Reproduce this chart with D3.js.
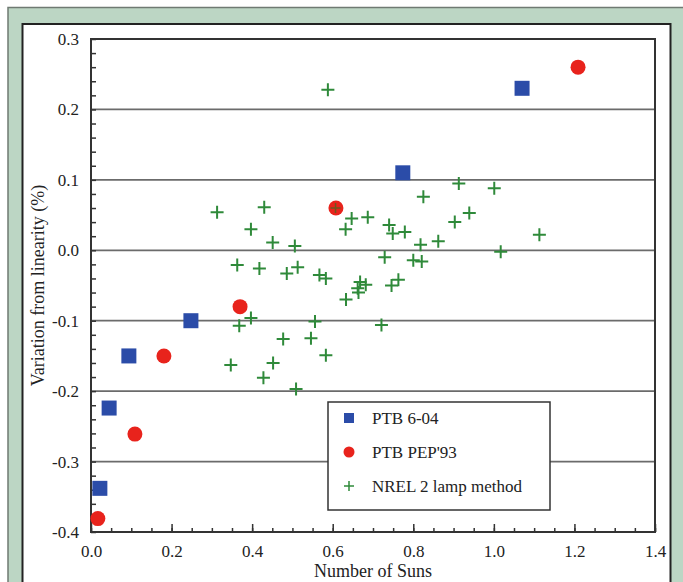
<!DOCTYPE html>
<html>
<head>
<meta charset="utf-8">
<script src="https://cdn.jsdelivr.net/npm/d3@7/dist/d3.min.js"></script>
<style>
	html, body { margin: 0; padding: 0; background: #fff; }
	svg { display: block; font-family: "Liberation Serif", "Times New Roman", serif; }
</style>
</head>
<body>
<div id="chart"></div>
<script>
// data
var xTicks = [0, 0.2, 0.4, 0.6, 0.8, 1.0, 1.2, 1.4];
var yTicks = [-0.4, -0.3, -0.2, -0.1, 0.0, 0.1, 0.2, 0.3];

var ptbX = [0.022, 0.045, 0.094, 0.248, 0.774, 1.070];
var ptbY = [-0.338, -0.224, -0.150, -0.100, 0.110, 0.230];

var pepX = [0.017, 0.109, 0.181, 0.370, 0.608, 1.209];
var pepY = [-0.381, -0.261, -0.150, -0.080, 0.060, 0.260];

var nrelX = [0.313, 0.430, 0.397, 0.451, 0.506, 0.607, 0.647, 0.687, 0.632, 0.588,
	0.363, 0.418, 0.486, 0.513, 0.567, 0.583, 0.668, 0.682, 0.662, 0.664, 0.633,
	0.913, 1.001, 0.825, 0.939, 0.903, 0.740, 0.749, 0.779, 0.862, 0.818, 1.113,
	1.017, 0.729, 0.800, 0.821, 0.763, 0.746,
	0.397, 0.368, 0.556, 0.721, 0.477, 0.546, 0.583, 0.347, 0.452, 0.428, 0.509];
var nrelY = [0.054, 0.061, 0.030, 0.011, 0.006, 0.060, 0.045, 0.047, 0.030, 0.228,
	-0.021, -0.026, -0.033, -0.024, -0.035, -0.040, -0.045, -0.049, -0.054, -0.060, -0.070,
	0.095, 0.088, 0.076, 0.053, 0.040, 0.036, 0.024, 0.026, 0.013, 0.008, 0.022,
	-0.002, -0.010, -0.014, -0.016, -0.042, -0.050,
	-0.096, -0.107, -0.101, -0.106, -0.126, -0.125, -0.149, -0.163, -0.160, -0.181, -0.197];

var seriesNames = ["PTB 6-04", "PTB PEP'93", "NREL 2 lamp method"];

var blue = "#2b4ca8", red = "#e8231c", green = "#2f8a3a";
var serif = "'Liberation Serif', 'Times New Roman', serif";

var W = 683, H = 582;
var svg = d3.select("#chart").append("svg")
	.attr("width", W)
	.attr("height", H);

// green page frame and white panel
svg.append("rect")
	.attr("x", 8).attr("y", 7.5)
	.attr("width", W).attr("height", H)
	.attr("fill", "#bcd6c4")
	.attr("stroke", "#6f7a72")
	.attr("stroke-width", 1.5);
svg.append("rect")
	.attr("x", 22.5).attr("y", 24)
	.attr("width", 648).attr("height", H)
	.attr("fill", "#fff")
	.attr("stroke", "#222")
	.attr("stroke-width", 2);

var x = d3.scaleLinear().domain([0, 1.4]).range([91, 655]);
var y = d3.scaleLinear().domain([-0.4, 0.3]).range([532, 39]);

var plot = svg.append("g");

// horizontal grid at the labelled values
plot.selectAll("line.grid")
	.data(yTicks.slice(1, -1))
	.enter().append("line")
		.attr("class", "grid")
		.attr("x1", x(0)).attr("x2", x(1.4))
		.attr("y1", function(d){ return y(d); })
		.attr("y2", function(d){ return y(d); })
		.attr("stroke", "#6b6b6b")
		.attr("stroke-width", 1.8);

// minor ticks, pointing inward
var yMinor = y.ticks(35);
var xMinor = x.ticks(28);

plot.append("g")
	.attr("transform", "translate(" + x(0) + ",0)")
	.call(d3.axisLeft(y).tickValues(yMinor).tickSize(-5).tickFormat(""))
	.call(function(g){ g.select(".domain").remove(); })
	.selectAll("line").attr("stroke", "#333").attr("stroke-width", 1.5);

plot.append("g")
	.attr("transform", "translate(0," + y(-0.4) + ")")
	.call(d3.axisBottom(x).tickValues(xMinor).tickSize(-4).tickFormat(""))
	.call(function(g){ g.select(".domain").remove(); })
	.selectAll("line").attr("stroke", "#333").attr("stroke-width", 1.5);

// labelled axes
var yAxis = plot.append("g")
	.attr("transform", "translate(" + x(0) + ",0)")
	.call(d3.axisLeft(y).tickValues(yTicks).tickSize(0).tickPadding(12).tickFormat(d3.format(".1f")))
	.attr("font-family", serif);
yAxis.select(".domain").remove();
yAxis.selectAll("text")
	.attr("font-size", 17)
	.attr("fill", "#222")
	.text(function(d){ return d3.format(".1f")(d).replace("−", "-"); });

var xAxis = plot.append("g")
	.attr("transform", "translate(0," + y(-0.4) + ")")
	.call(d3.axisBottom(x).tickValues(xTicks).tickSize(-8).tickPadding(13).tickFormat(d3.format(".1f")))
	.attr("font-family", serif);
xAxis.select(".domain").remove();
xAxis.selectAll("line").attr("stroke", "#333").attr("stroke-width", 1.5);
xAxis.selectAll("text")
	.attr("font-size", 17)
	.attr("fill", "#222");

// plot frame
plot.append("rect")
	.attr("x", x(0)).attr("y", y(0.3))
	.attr("width", x(1.4) - x(0))
	.attr("height", y(-0.4) - y(0.3))
	.attr("fill", "none")
	.attr("stroke", "#333")
	.attr("stroke-width", 2);

// axis titles
svg.append("text")
	.attr("x", (x(0) + x(1.4)) / 2)
	.attr("y", 577)
	.attr("text-anchor", "middle")
	.attr("font-size", 18)
	.attr("fill", "#222")
	.text("Number of Suns");
svg.append("text")
	.attr("transform", "translate(44," + ((y(0.3) + y(-0.4)) / 2) + ") rotate(-90)")
	.attr("text-anchor", "middle")
	.attr("font-size", 18)
	.attr("fill", "#222")
	.text("Variation from linearity (%)");

// markers
function plusPath(s) {
	return "M" + (-s) + ",0H" + s + "M0," + (-s) + "V" + s;
}

var nrel = nrelX.map(function(v, i){ return {x: v, y: nrelY[i]}; });
var ptb = ptbX.map(function(v, i){ return {x: v, y: ptbY[i]}; });
var pep = pepX.map(function(v, i){ return {x: v, y: pepY[i]}; });

plot.selectAll("path.nrel")
	.data(nrel)
	.enter().append("path")
		.attr("class", "nrel")
		.attr("d", plusPath(6.5))
		.attr("transform", function(d){ return "translate(" + x(d.x) + "," + y(d.y) + ")"; })
		.attr("stroke", green)
		.attr("stroke-width", 2)
		.attr("fill", "none");

plot.selectAll("rect.ptb")
	.data(ptb)
	.enter().append("rect")
		.attr("class", "ptb")
		.attr("x", function(d){ return x(d.x) - 7.5; })
		.attr("y", function(d){ return y(d.y) - 7.5; })
		.attr("width", 15).attr("height", 15)
		.attr("fill", blue);

plot.selectAll("circle.pep")
	.data(pep)
	.enter().append("circle")
		.attr("class", "pep")
		.attr("cx", function(d){ return x(d.x); })
		.attr("cy", function(d){ return y(d.y); })
		.attr("r", 7.5)
		.attr("fill", red);

// the NREL point sitting on the PEP'93 circle stays visible
plot.selectAll("path.nrelTop")
	.data(nrel.filter(function(d){ return d.x == 0.607; }))
	.enter().append("path")
		.attr("d", plusPath(5))
		.attr("transform", function(d){ return "translate(" + x(d.x) + "," + y(d.y) + ")"; })
		.attr("stroke", "#6b5a20")
		.attr("stroke-width", 1.5)
		.attr("fill", "none");

// legend
var legend = svg.append("g").attr("transform", "translate(328,402)");
legend.append("rect")
	.attr("width", 222).attr("height", 108)
	.attr("fill", "#fff")
	.attr("stroke", "#333")
	.attr("stroke-width", 1.5);

var rows = legend.selectAll("g.row")
	.data(seriesNames)
	.enter().append("g")
		.attr("transform", function(d, i){ return "translate(21," + (16 + 34 * i) + ")"; });

rows.append("text")
	.attr("x", 23)
	.attr("y", 6)
	.attr("font-size", 17)
	.attr("fill", "#222")
	.text(function(d){ return d; });

rows.each(function(d, i) {
	var g = d3.select(this);
	if (i == 0) {
		g.append("rect").attr("x", -5).attr("y", -5).attr("width", 10).attr("height", 10).attr("fill", blue);
	} else if (i == 1) {
		g.append("circle").attr("r", 5.5).attr("fill", red);
	} else {
		g.append("path").attr("d", plusPath(5)).attr("stroke", green).attr("stroke-width", 1.5);
	}
});
</script>
</body>
</html>
